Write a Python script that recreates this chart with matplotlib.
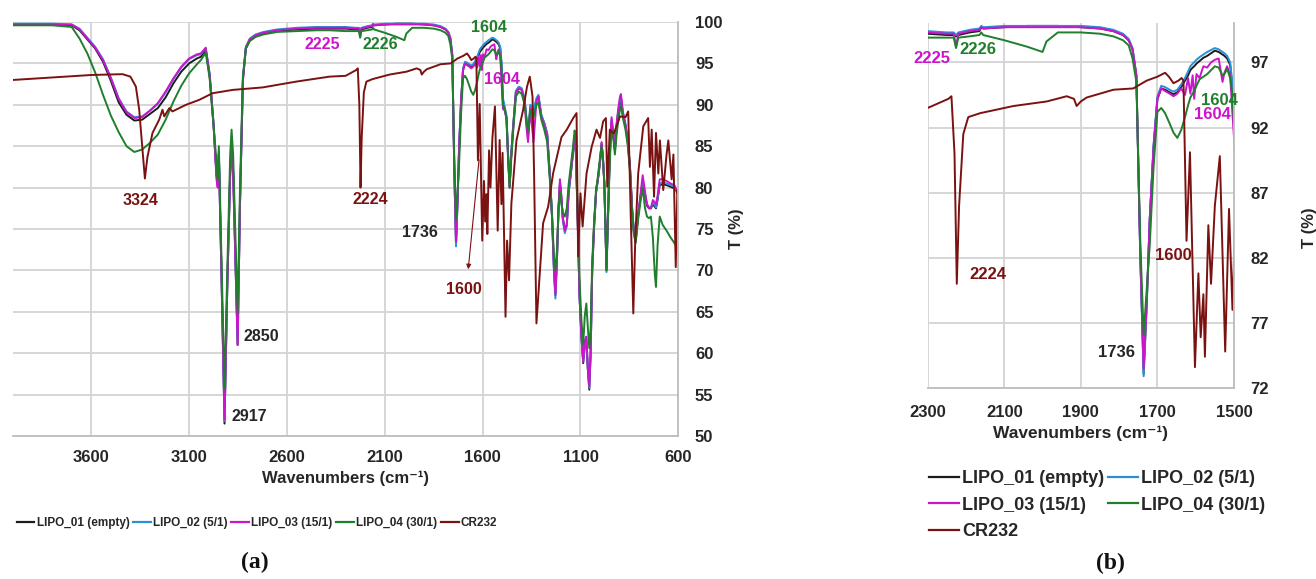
import matplotlib
matplotlib.use('Agg')
import matplotlib.pyplot as plt
from matplotlib.lines import Line2D

# Shared wavenumber grid (cm-1) for the four liposome spectra
wn_lipo = [4000, 3800, 3700, 3660, 3620, 3580, 3540, 3500, 3460, 3420, 3380, 3340, 3300, 3260, 3220, 3180, 3140, 3100, 3060, 3040, 3015,
           2995, 2975, 2960, 2954, 2948, 2935, 2919, 2905, 2890, 2883, 2875, 2862, 2852, 2840, 2825, 2810, 2790, 2760, 2720, 2650, 2550, 2450, 2380, 2300,
           2250, 2232, 2226, 2220, 2190, 2165, 2160, 2155, 2100, 2040, 2000, 1990, 1960, 1900, 1850, 1815, 1790, 1775, 1765, 1755, 1745, 1736, 1728, 1720, 1710, 1700,
           1690, 1680, 1668, 1658, 1648, 1638, 1628, 1620, 1614, 1608, 1604, 1598, 1590, 1580, 1570, 1560, 1550, 1540, 1530, 1525, 1518, 1510, 1504, 1496, 1487, 1478, 1470, 1462, 1455, 1445,
           1430, 1415, 1400, 1385, 1377, 1368, 1356, 1340, 1325, 1315, 1300, 1285, 1270, 1255, 1245, 1235, 1228, 1220, 1212, 1205, 1200, 1190, 1180, 1170, 1160, 1150, 1140, 1130, 1125,
           1115, 1105, 1095, 1086, 1078, 1070, 1062, 1055, 1048, 1040, 1030, 1020, 1015, 1008, 998, 992, 985, 978, 972, 967, 960, 953, 946, 941, 930, 924, 915, 907, 898, 893, 884,
           870, 858, 847, 836, 828, 818, 806, 795, 782, 770, 760, 750, 740, 730, 720, 714, 706, 695, 680, 660, 640, 620, 600]

# Transmittance (%)
t_lipo01 = [99.7, 99.7, 99.6, 99.0, 97.9, 96.8, 95.2, 92.9, 90.3, 88.8, 88.1, 88.2, 88.9, 89.6, 90.9, 92.6, 94.0, 95.0, 95.6, 95.8, 96.6,
            93.5, 87.5, 81.5, 80.5, 84.0, 70.0, 51.5, 68.0, 82.0, 85.0, 82.0, 70.0, 61.0, 78.0, 93.0, 96.8, 97.8, 98.3, 98.6, 98.9, 99.1, 99.2, 99.2, 99.2,
            99.1, 99.1, 99.0, 99.1, 99.3, 99.4, 99.7, 99.6, 99.7, 99.8, 99.8, 99.8, 99.8, 99.7, 99.6, 99.4, 99.1, 98.7, 98.0, 96.0, 82.5, 73.1, 78.5, 85.0, 90.5, 94.2,
            95.0, 94.9, 94.7, 94.55, 94.7, 95.1, 95.6, 96.0, 96.4, 96.6, 96.7, 96.9, 97.1, 97.35, 97.5, 97.7, 97.9, 97.8, 97.6, 97.5, 97.3, 96.8, 95.0, 90.5, 89.5, 88.5, 84.0, 80.2, 83.5, 87.0,
            91.5, 92.0, 91.8, 90.5, 88.5, 86.2, 89.8, 89.0, 90.6, 91.0, 88.7, 87.8, 86.5, 81.0, 76.5, 70.0, 67.2, 71.5, 77.5, 80.3, 79.5, 76.3, 75.0, 75.5, 79.5, 81.5, 83.7, 86.0, 85.5,
            77.0, 67.0, 62.0, 58.8, 61.0, 61.5, 58.0, 55.6, 60.0, 70.0, 75.5, 79.5, 80.3, 81.5, 83.5, 85.3, 83.5, 80.5, 75.0, 70.0, 76.0, 81.7, 86.0, 88.0, 86.0, 84.5, 87.5, 89.0, 90.4, 90.8, 89.0,
            87.5, 85.5, 82.5, 77.5, 75.0, 73.7, 76.5, 78.5, 80.7, 79.0, 77.8, 77.5, 77.5, 78.0, 77.7, 77.5, 78.5, 80.3, 80.4, 80.3, 80.1, 79.9, 79.3]

t_lipo02 = [99.8, 99.8, 99.7, 99.2, 98.1, 97.0, 95.5, 93.3, 90.8, 89.2, 88.5, 88.6, 89.3, 90.1, 91.5, 93.1, 94.5, 95.5, 96.0, 96.1, 96.8,
            93.8, 87.8, 81.5, 80.5, 84.2, 70.0, 51.8, 68.0, 82.0, 85.2, 82.0, 70.0, 61.2, 78.0, 93.2, 97.0, 98.0, 98.5, 98.8, 99.1, 99.3, 99.4, 99.4, 99.4,
            99.3, 99.3, 99.1, 99.3, 99.5, 99.6, 99.8, 99.7, 99.8, 99.8, 99.8, 99.8, 99.8, 99.8, 99.7, 99.5, 99.2, 98.8, 98.1, 96.0, 82.3, 72.9, 78.3, 85.0, 90.7, 94.4,
            95.2, 95.1, 94.9, 94.75, 94.9, 95.3, 95.8, 96.3, 96.7, 96.9, 97.0, 97.2, 97.4, 97.6, 97.8, 97.95, 98.1, 98.0, 97.8, 97.7, 97.5, 97.0, 95.3, 90.8, 89.7, 88.7, 84.0, 80.0, 83.7, 87.2,
            91.7, 92.2, 92.0, 90.7, 88.6, 86.3, 90.0, 89.2, 90.8, 91.2, 88.8, 87.8, 86.5, 81.0, 76.3, 69.5, 66.6, 71.3, 77.5, 80.5, 79.5, 76.0, 74.5, 75.3, 79.5, 81.5, 83.8, 86.1, 85.6,
            77.0, 67.0, 62.0, 59.0, 61.0, 61.8, 58.0, 55.8, 60.0, 70.0, 75.5, 79.5, 80.3, 81.5, 83.6, 85.3, 83.5, 80.5, 75.0, 69.8, 76.0, 81.7, 86.2, 88.2, 86.2, 84.6, 87.6, 89.2, 90.6, 91.0, 89.2,
            87.6, 85.6, 82.5, 77.5, 75.0, 73.6, 76.6, 78.6, 80.9, 79.2, 78.0, 77.6, 77.6, 78.1, 77.9, 77.6, 78.7, 80.5, 80.6, 80.5, 80.3, 80.1, 79.3]

t_lipo03 = [99.7, 99.7, 99.7, 99.1, 98.0, 96.9, 95.4, 93.2, 90.7, 89.1, 88.4, 88.5, 89.3, 90.2, 91.6, 93.2, 94.6, 95.6, 96.1, 96.2, 96.9,
            93.6, 87.6, 81.0, 80.0, 84.0, 70.0, 52.0, 68.0, 81.5, 84.5, 81.5, 70.0, 61.0, 78.0, 93.0, 96.9, 97.9, 98.4, 98.7, 99.0, 99.2, 99.3, 99.3, 99.3,
            99.2, 99.2, 98.2, 99.2, 99.4, 99.5, 99.7, 99.6, 99.7, 99.7, 99.7, 99.7, 99.7, 99.7, 99.6, 99.4, 99.1, 98.7, 98.0, 96.0, 82.5, 73.5, 78.5, 85.0, 90.5, 94.2,
            95.0, 94.8, 94.6, 94.4, 94.6, 95.0, 94.5, 95.8, 94.6, 96.0, 94.2, 96.1, 95.8, 96.7, 96.6, 97.0, 97.2, 97.3, 95.5, 96.2, 96.7, 96.0, 93.0, 89.5, 89.3, 88.3, 83.8, 80.0, 83.3, 86.8,
            91.5, 92.0, 91.8, 90.3, 87.5, 85.5, 89.5, 85.5, 90.4, 91.0, 88.5, 87.5, 86.2, 80.8, 76.3, 69.8, 67.0, 71.5, 77.8, 81.0, 79.8, 76.2, 74.8, 75.5, 79.8, 81.8, 84.0, 86.2, 85.6,
            77.0, 67.0, 62.0, 59.0, 61.5, 62.0, 58.0, 56.0, 60.0, 70.0, 75.5, 79.5, 80.3, 81.5, 83.8, 85.5, 83.5, 80.5, 75.0, 70.2, 76.0, 81.8, 86.5, 88.5, 86.0, 84.5, 87.8, 89.5, 91.0, 91.3, 89.2,
            87.6, 85.6, 82.5, 77.3, 74.8, 73.4, 76.5, 78.8, 81.5, 79.5, 78.0, 77.5, 77.5, 78.5, 78.2, 78.0, 79.0, 81.0, 81.0, 80.8, 80.5, 80.3, 79.3]

t_lipo04 = [99.6, 99.6, 99.4, 98.0, 96.2, 93.9, 91.2, 88.7, 86.7, 85.0, 84.3, 84.6, 85.4, 86.4, 88.2, 90.4, 92.3, 93.8, 94.9, 95.4, 96.3,
            93.2, 87.5, 83.0, 81.0, 85.0, 72.0, 55.7, 70.0, 84.0, 87.0, 84.0, 73.0, 64.8, 80.0, 93.5, 96.8, 97.7, 98.2, 98.5, 98.8, 98.9, 99.0, 99.0, 98.9,
            98.9, 98.9, 98.1, 98.9, 99.0, 99.1, 99.3, 99.1, 98.7, 98.2, 97.8, 98.6, 99.3, 99.3, 99.2, 99.0, 98.7, 98.3, 97.3, 95.5, 83.5, 76.1, 79.5, 83.0, 89.0, 93.2,
            93.5, 93.1, 92.3, 91.6, 91.2, 91.8, 92.8, 93.7, 94.3, 94.6, 94.8, 95.2, 95.7, 95.9, 96.1, 96.4, 96.7, 96.6, 96.0, 96.1, 96.5, 95.8, 94.5, 90.0, 89.5, 88.3, 83.5, 80.0, 83.0, 86.5,
            91.0, 91.6, 91.3, 90.0, 88.3, 86.8, 89.3, 88.5, 90.0, 90.3, 88.2, 87.0, 85.5, 80.5, 76.5, 71.5, 70.0, 72.5, 77.5, 79.5, 78.5, 77.0, 76.5, 77.5, 80.5, 82.5, 84.5, 86.9, 86.2,
            77.5, 69.0, 64.0, 61.0, 64.5, 66.0, 63.0, 60.6, 63.0, 71.0, 76.0, 80.0, 80.5, 82.0, 84.0, 85.0, 83.5, 80.5, 75.0, 70.0, 76.0, 81.0, 85.5, 87.0, 85.5, 84.0, 86.5, 88.0, 89.5, 90.0, 88.5,
            87.0, 85.0, 82.0, 77.0, 74.5, 73.3, 76.0, 78.0, 80.0, 77.5, 76.5, 76.3, 76.5, 74.0, 69.5, 68.0, 73.0, 76.5, 75.5, 74.8, 74.0, 73.3, 72.5]

# CR232 (free drug) spectrum
wn_cr = [4000, 3800, 3600, 3440, 3400, 3372, 3355, 3338, 3326, 3313, 3287, 3253, 3236, 3227, 3201, 3185, 3116, 3048, 2980, 2877,
         2724, 2553, 2383, 2300, 2246, 2238, 2230, 2224, 2218, 2207, 2194, 2163, 2076, 1989, 1937, 1918, 1911, 1900, 1885, 1815,
         1763, 1728, 1700, 1680, 1670, 1658, 1645, 1637, 1632, 1624, 1615, 1602, 1593, 1587, 1580, 1576, 1567, 1560, 1550, 1537,
         1523, 1513, 1504, 1498, 1483, 1475, 1465, 1453, 1427, 1393, 1373, 1359, 1345, 1337, 1325, 1308, 1291, 1265, 1240, 1197,
         1170, 1137, 1120, 1112, 1100, 1089, 1069, 1043, 1018, 1000, 984, 970, 963, 950, 930, 898, 870, 856, 842, 830,
         820, 805, 779, 754, 745, 736, 724, 714, 702, 694, 677, 660, 651, 634, 625, 613, 605, 600]
t_cr = [93.0, 93.3, 93.6, 93.7, 93.4, 92.2, 89.4, 84.5, 81.1, 83.7, 86.6, 88.2, 89.4, 88.6, 89.6, 89.2, 90.0, 90.6, 91.4, 91.8,
        92.1, 92.8, 93.4, 93.5, 94.2, 94.4, 90.0, 80.0, 86.0, 91.5, 92.8, 93.1, 93.65, 94.0, 94.4, 94.2, 93.65, 94.0, 94.3, 94.9,
        95.0, 95.6, 95.9, 96.2, 95.9, 95.4, 95.6, 95.8, 95.6, 83.3, 90.1, 73.6, 80.8, 75.9, 79.2, 74.4, 84.5, 80.0, 86.0, 89.8,
        74.8, 85.75, 78.0, 84.2, 64.4, 73.6, 68.8, 78.1, 85.7, 89.4, 92.2, 93.4, 91.0, 81.7, 63.6, 69.6, 75.7, 77.7, 81.7, 86.1,
        87.0, 88.4, 89.0, 71.7, 79.3, 75.3, 81.7, 84.9, 87.0, 86.0, 88.0, 88.4, 80.1, 87.0, 86.5, 88.6, 88.5, 89.2, 75.7, 64.8,
        73.7, 81.7, 87.4, 88.4, 82.5, 87.0, 78.9, 86.6, 81.7, 85.7, 79.7, 84.0, 85.7, 81.0, 84.0, 70.4, 79.7, 78.9]

names = ['LIPO_01 (empty)', 'LIPO_02 (5/1)', 'LIPO_03 (15/1)', 'LIPO_04 (30/1)', 'CR232']
colors = ['#1c1c1c', '#2b8fd4', '#cc14cc', '#1f7f2c', '#7b1212']
TXT = '#262626'
XLABEL = 'Wavenumbers (cm\u207b\u00b9)'

plt.rcParams['font.family'] = ['Liberation Sans', 'DejaVu Sans']
plt.rcParams['font.weight'] = 'bold'

fig = plt.figure(figsize=(13.16, 5.79), dpi=100)
ax_a = fig.add_axes([13 / 1316, 143 / 579, 665.3 / 1316, 414 / 579])
ax_b = fig.add_axes([927.7 / 1316, 191 / 579, 306.3 / 1316, 364.7 / 579])


def draw_spectra(ax):
    for t, c, n in zip([t_lipo01, t_lipo02, t_lipo03, t_lipo04], colors[:4], names[:4]):
        ax.plot(wn_lipo, t, color=c, lw=1.4, label=n)
    ax.plot(wn_cr, t_cr, color=colors[4], lw=1.4, label=names[4])


def style(ax, xticks, yticks, xlim, ylim, fs_x, pad_x, pad_y):
    ax.set_xlim(*xlim)
    ax.set_ylim(*ylim)
    ax.set_xticks(xticks)
    ax.set_yticks(yticks)
    ax.yaxis.tick_right()
    ax.grid(True, color='#d3d3d3', lw=1.3)
    ax.set_axisbelow(True)
    for s in ['top', 'left']:
        ax.spines[s].set_visible(False)
    for s in ['right', 'bottom']:
        ax.spines[s].set_color('#bdbdbd')
        ax.spines[s].set_linewidth(1.3)
    ax.tick_params(axis='x', length=0, pad=pad_x, labelsize=12, labelcolor=TXT)
    ax.tick_params(axis='y', length=0, pad=pad_y, labelsize=12, labelcolor=TXT)
    ax.set_xlabel(XLABEL, fontsize=fs_x, fontweight='bold', color=TXT, labelpad=4)


# panel (a)
draw_spectra(ax_a)
style(ax_a, [3600, 3100, 2600, 2100, 1600, 1100, 600], list(range(50, 101, 5)),
      (4000, 600), (50, 100), 12, 10, 12)
ax_a.text(1.087, 0.5, 'T (%)', rotation=90, transform=ax_a.transAxes,
          ha='center', va='center', fontsize=12, color=TXT)

ann_a = [('3324', 3350, 78.4, colors[4]), ('2850', 2733, 62.0, TXT), ('2917', 2792, 52.3, TXT),
         ('2224', 2173, 78.6, colors[4]), ('1736', 1922, 74.6, TXT), ('2225', 2421, 97.3, colors[2]),
         ('2226', 2122, 97.3, colors[3]), ('1604', 1569, 99.3, colors[3]), ('1604', 1502, 93.0, colors[2]),
         ('1600', 1697, 67.7, colors[4])]
for s, x, y, c in ann_a:
    ax_a.text(x, y, s, color=c, fontsize=11.5, ha='center', va='center')
ax_a.annotate('', xy=(1675, 69.8), xytext=(1617, 83.7),
              arrowprops=dict(arrowstyle='-|>', color=colors[4], lw=0.8, mutation_scale=7))

# panel (b)
draw_spectra(ax_b)
style(ax_b, [2300, 2100, 1900, 1700, 1500], [72, 77, 82, 87, 92, 97],
      (2300, 1500), (72, 100), 12.5, 12, 12)
ax_b.text(1.245, 0.44, 'T (%)', rotation=90, transform=ax_b.transAxes,
          ha='center', va='center', fontsize=12, color=TXT)

ann_b = [('2225', 2288, 97.3, colors[2]), ('2226', 2168, 98.0, colors[3]),
         ('1604', 1539, 94.1, colors[3]), ('1604', 1556, 93.0, colors[2]),
         ('2224', 2143, 80.7, colors[4]), ('1600', 1659, 82.2, colors[4]),
         ('1736', 1806, 74.7, TXT)]
for s, x, y, c in ann_b:
    ax_b.text(x, y, s, color=c, fontsize=12, ha='center', va='center')

# legends
handles = [Line2D([], [], color=c, lw=1.6) for c in colors]
fig.legend(handles, names, loc='center', bbox_to_anchor=(257 / 1316, 1 - 523 / 579), ncol=5,
           frameon=False, handlelength=1.5, handletextpad=0.2, columnspacing=0.3,
           prop={'weight': 'bold', 'size': 8.5}, labelcolor=TXT)

order = [0, 2, 4, 1, 3]
fig.legend([handles[i] for i in order], [names[i] for i in order], loc='center',
           bbox_to_anchor=(1097 / 1316, 1 - 505 / 579), ncol=2, frameon=False,
           handlelength=1.67, handletextpad=0.17, columnspacing=0.17, labelspacing=0.52,
           prop={'weight': 'bold', 'size': 13}, labelcolor=TXT)

# captions
fig.text(255 / 1316, 1 - 562 / 579, '(a)', ha='center', va='center', fontsize=17,
         family='Liberation Serif', weight='bold', color='#111111')
fig.text(1110 / 1316, 1 - 563 / 579, '(b)', ha='center', va='center', fontsize=17,
         family='Liberation Serif', weight='bold', color='#111111')

fig.savefig('out.png', dpi=100)
